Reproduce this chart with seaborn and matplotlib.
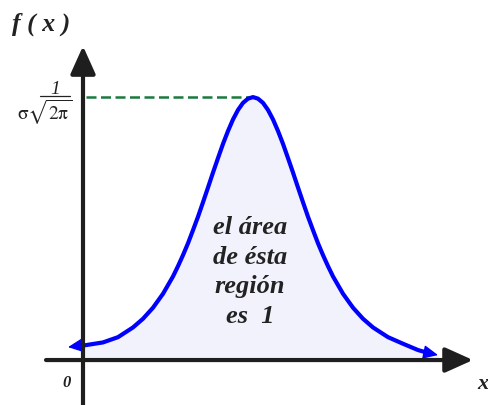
"""Curva normal: el área bajo f(x) es 1."""

import numpy as np
import matplotlib as mpl
import matplotlib.pyplot as plt
import seaborn as sns

# curve (x: distance from the y axis, y: height / peak)
curve_x = np.array([-0.30, -0.14, 0.00, 0.40, 0.70, 1.00, 1.20, 1.40, 1.60,
                    1.80, 1.90, 2.00, 2.10, 2.20, 2.30, 2.40, 2.50, 2.60,
                    2.70, 2.80, 2.90, 3.00, 3.10, 3.20, 3.30, 3.40,
                    3.50, 3.60, 3.70, 3.80, 3.90, 4.00, 4.10, 4.20, 4.30,
                    4.40, 4.50, 4.60, 4.70, 4.80, 4.90, 5.00, 5.20, 5.40,
                    5.60, 5.80, 6.10, 6.40, 6.70, 6.90, 7.10])
curve_y = np.array([0.049, 0.053, 0.055, 0.067, 0.087, 0.124, 0.157, 0.199,
                    0.252, 0.318, 0.357, 0.399, 0.444, 0.494, 0.545, 0.600,
                    0.656, 0.713, 0.768, 0.822, 0.871, 0.915, 0.951, 0.978,
                    0.994, 1.000,
                    0.994, 0.978, 0.951, 0.915, 0.871, 0.822, 0.768, 0.713,
                    0.656, 0.600, 0.545, 0.494, 0.444, 0.399, 0.357, 0.318,
                    0.252, 0.199, 0.157, 0.124, 0.087, 0.062, 0.038, 0.027,
                    0.019])

label_fx = "f ( x )"
label_x = "x"
label_origin = "0"
label_num = "1"
label_den = r"$\mathrm{\sigma}\sqrt{2\mathrm{\pi}}$"
label_area = "el área\nde ésta\nregión\nes  1"

CURVE = "#0000ff"
FILL = "#f2f2fc"
AXIS = "#1e1e1e"
GREEN = "#1b7a3e"
TEXT = "#222222"

sns.set_theme(style="white")
mpl.rcParams.update({
    "font.family": ["Liberation Serif", "DejaVu Serif"],
    "mathtext.fontset": "stix",
})

fig = plt.figure(figsize=(4.89, 4.06), dpi=100)
ax = fig.add_axes([0, 0, 1, 1])
ax.set_xlim(-1.66, 8.12)
ax.set_ylim(-0.171, 1.373)
ax.axis("off")

# shaded area under the curve, right of the y axis
inside = curve_x >= 0
ax.fill_between(curve_x[inside], curve_y[inside], 0, color=FILL, lw=0, zorder=1)

# axes with arrow heads
axis_arrow = dict(arrowstyle="-|>,head_length=1.0,head_width=0.45",
                  color=AXIS, lw=3, mutation_scale=17, shrinkA=0, shrinkB=0)
ax.annotate("", xy=(7.80, 0), xytext=(-0.74, 0), arrowprops=axis_arrow, zorder=4)
ax.annotate("", xy=(0, 1.194), xytext=(0, -0.171), arrowprops=axis_arrow, zorder=4)

# dashed line at the peak
ipk = int(np.argmax(curve_y))
ax.plot([0.06, curve_x[ipk]], [curve_y[ipk], curve_y[ipk]], color=GREEN,
        lw=1.8, dashes=(4, 1.8), zorder=2)

# the curve itself + arrow heads at both ends
sns.lineplot(x=curve_x[1:-1], y=curve_y[1:-1], ax=ax, color=CURVE, lw=3,
             sort=False, estimator=None, zorder=3)
curve_arrow = dict(arrowstyle="-|>,head_length=0.75,head_width=0.35",
                   color=CURVE, lw=1, mutation_scale=12, shrinkA=0, shrinkB=0)
ax.annotate("", xy=(curve_x[0], curve_y[0]), xytext=(curve_x[1], curve_y[1]),
            arrowprops=curve_arrow, zorder=3)
ax.annotate("", xy=(curve_x[-1], curve_y[-1]), xytext=(curve_x[-2], curve_y[-2]),
            arrowprops=curve_arrow, zorder=3)

# peak value label 1 / (sigma sqrt(2 pi))
ax.text(-0.56, 1.034, label_num, ha="center", va="center", fontsize=14,
        fontstyle="italic", color=TEXT)
ax.plot([-0.86, -0.26], [1.004, 1.004], color=TEXT, lw=0.9)
ax.text(-0.22, 0.945, label_den, ha="right", va="center", fontsize=14,
        color=TEXT)

# labels
bi = dict(fontweight="bold", fontstyle="italic", color=TEXT)
ax.text(-1.42, 1.281, label_fx, ha="left", va="center", fontsize=18.5, **bi)
ax.text(8.00, -0.087, label_x, ha="center", va="center", fontsize=16, **bi)
ax.text(-0.32, -0.084, label_origin, ha="center", va="center", fontsize=12, **bi)
ax.text(3.34, 0.338, label_area, ha="center", va="center", fontsize=19,
        linespacing=1.36, **bi)

fig.savefig("out.png", dpi=100)
plt.close(fig)
